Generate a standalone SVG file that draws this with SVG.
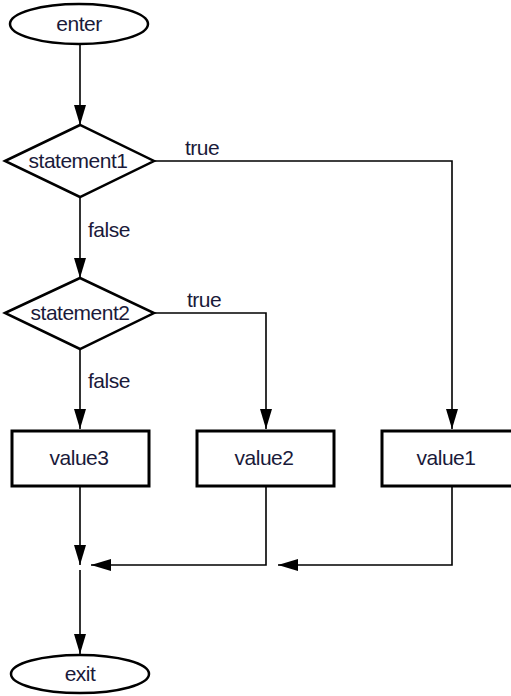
<svg xmlns="http://www.w3.org/2000/svg" width="511" height="696" viewBox="0 0 511 696">
<style>
  .shape { fill: #ffffff; stroke: #000000; stroke-width: 2.5; }
  .box { fill: #ffffff; stroke: #000000; stroke-width: 3; }
  .edge { fill: none; stroke: #000000; stroke-width: 1.6; }
  .lbl { font-family: "Liberation Sans", Arial, sans-serif; font-size: 21px; letter-spacing: -0.5px; fill: #1a1a3a; text-anchor: middle; }
  .elbl { font-family: "Liberation Sans", Arial, sans-serif; font-size: 21px; letter-spacing: -0.5px; fill: #1a1a3a; }
</style>
<defs>
  <marker id="arr" markerUnits="userSpaceOnUse" markerWidth="20" markerHeight="14" viewBox="0 0 20 14" refX="20" refY="7" orient="auto">
    <path d="M0,1 L20,7 L0,13 Z" fill="#000000"/>
  </marker>
</defs>
<rect width="511" height="696" fill="#ffffff"/>
<g id="connectors">
  <path class="edge" d="M80,45 L80,125" marker-end="url(#arr)"/>
  <path class="edge" d="M154,161 L452,161 L452,429" marker-end="url(#arr)"/>
  <path class="edge" d="M80,197 L80,278" marker-end="url(#arr)"/>
  <path class="edge" d="M154,313 L266,313 L266,429" marker-end="url(#arr)"/>
  <path class="edge" d="M80,349 L80,429" marker-end="url(#arr)"/>
  <path class="edge" d="M80,487 L80,565" marker-end="url(#arr)"/>
  <path class="edge" d="M266,487 L266,565 L91,565" marker-end="url(#arr)"/>
  <path class="edge" d="M452,487 L452,565 L278,565" marker-end="url(#arr)"/>
  <path class="edge" d="M80,570 L80,654" marker-end="url(#arr)"/>
  <text class="elbl" x="185" y="155">true</text>
  <text class="elbl" x="88" y="237">false</text>
  <text class="elbl" x="187" y="307">true</text>
  <text class="elbl" x="88" y="388">false</text>
</g>
<g id="enter">
  <ellipse class="shape" cx="79" cy="24" rx="69" ry="20"/>
  <text class="lbl" x="79" y="31">enter</text>
</g>
<g id="statement1">
  <polygon class="shape" points="5,161 80,125 154,161 80,197"/>
  <text class="lbl" x="78" y="168">statement1</text>
</g>
<g id="statement2">
  <polygon class="shape" points="5,313 80,278 154,313 80,349"/>
  <text class="lbl" x="80" y="320">statement2</text>
</g>
<g id="value3">
  <rect class="box" x="12" y="431" width="137" height="55"/>
  <text class="lbl" x="79" y="465">value3</text>
</g>
<g id="value2">
  <rect class="box" x="197" y="431" width="137" height="55"/>
  <text class="lbl" x="264" y="465">value2</text>
</g>
<g id="value1">
  <rect class="box" x="382" y="431" width="140" height="55"/>
  <text class="lbl" x="446" y="465">value1</text>
</g>
<g id="exit">
  <ellipse class="shape" cx="80" cy="674" rx="69" ry="19"/>
  <text class="lbl" x="80" y="681">exit</text>
</g>
</svg>
